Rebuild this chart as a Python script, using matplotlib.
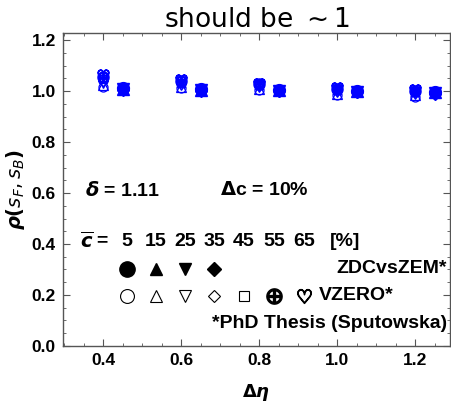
import matplotlib
matplotlib.use("Agg")
import matplotlib.pyplot as plt
from matplotlib.ticker import MultipleLocator

plt.rcParams['font.family'] = ['Liberation Sans', 'DejaVu Sans']
plt.rcParams['mathtext.fontset'] = 'dejavusans'

# data
deta = [0.4, 0.6, 0.8, 1.0, 1.2]
deta_zdc = [0.45, 0.65, 0.85, 1.05, 1.25]
cent_labels = ['5', '15', '25', '35', '45', '55', '65']

# VZERO (open markers), one list per centrality class
vzero = [
    [1.015, 1.012, 1.005, 0.985, 0.978],
    [1.025, 1.018, 1.010, 0.990, 0.984],
    [1.032, 1.024, 1.015, 0.995, 0.988],
    [1.040, 1.030, 1.020, 1.000, 0.992],
    [1.048, 1.034, 1.024, 1.004, 0.996],
    [1.056, 1.040, 1.027, 1.008, 1.001],
    [1.064, 1.044, 1.030, 1.012, 1.006],
]
# ZDCvsZEM (filled markers)
zdc = [
    [1.012, 1.008, 1.004, 1.000, 0.997],
    [1.010, 1.006, 1.003, 0.999, 0.995],
    [1.008, 1.004, 1.001, 0.998, 0.993],
    [1.006, 1.002, 1.000, 0.996, 0.990],
]

blue = '#0000ff'
open_markers = ['o', '^', 'v', 'D', 's', '$\\oplus$', '$\\heartsuit$']
open_sizes = [6.5, 6.5, 6.5, 5, 5.5, 8, 8]
filled_markers = ['o', '^', 'v', 'D']
filled_sizes = [8.5, 8, 8, 6.5]

fig = plt.figure(figsize=(4.52, 4.04), dpi=100)
ax = fig.add_axes([0.139, 0.144, 0.857, 0.774])

for vals, m, s in zip(vzero, open_markers, open_sizes):
    if m.startswith('$'):
        ax.plot(deta, vals, ls='none', marker=m, ms=s, color=blue)
    else:
        ax.plot(deta, vals, ls='none', marker=m, ms=s, mfc='none', mec=blue, mew=0.9)
for vals, m, s in zip(zdc, filled_markers, filled_sizes):
    ax.plot(deta_zdc, vals, ls='none', marker=m, ms=s, color=blue)

ax.set_xlim(0.297, 1.29)
ax.set_ylim(0.0, 1.228)
ax.xaxis.set_major_locator(MultipleLocator(0.2))
ax.xaxis.set_minor_locator(MultipleLocator(0.05))
ax.yaxis.set_major_locator(MultipleLocator(0.2))
ax.yaxis.set_minor_locator(MultipleLocator(0.05))
ax.tick_params(which='both', direction='in', top=True, right=True, color='#555555')
ax.tick_params(which='major', length=5, labelsize=12.5, pad=5)
ax.tick_params(which='minor', length=2.5)
for t in ax.get_xticklabels() + ax.get_yticklabels():
    t.set_fontweight('bold')
for sp in ax.spines.values():
    sp.set_color('#555555')
    sp.set_linewidth(1.0)

ax.set_xlabel(r'$\mathbf{\Delta}\boldsymbol{\eta}$', fontsize=13, labelpad=10)
ax.set_ylabel(r'$\boldsymbol{\rho(s_F, s_B)}$', fontsize=14, labelpad=3)
ax.set_title(r'should be $\sim 1$', fontsize=19, pad=2,
             family=['DejaVu Sans'])

# text annotations
tr = ax.transAxes
fs = 14
ax.text(0.057, 0.498, r'$\boldsymbol{\delta}$ = 1.11', transform=tr, fontsize=fs,
        fontweight='bold', va='center')
ax.text(0.406, 0.498, r'$\mathbf{\Delta}$c = 10%', transform=tr, fontsize=fs,
        fontweight='bold', va='center')

ax.text(0.045, 0.335, r'$\overline{\boldsymbol{c}}$ =', transform=tr, fontsize=fs,
        fontweight='bold', va='center')
xs = [0.166, 0.240, 0.316, 0.391, 0.468, 0.546, 0.622]
for xp, lab in zip(xs, cent_labels):
    ax.text(xp, 0.335, lab, transform=tr, fontsize=fs, fontweight='bold',
            ha='center', va='center')
ax.text(0.69, 0.335, '[%]', transform=tr, fontsize=fs, fontweight='bold', va='center')

for xp, m, s in zip(xs, filled_markers, [11, 9, 9, 7]):
    ax.plot([xp], [0.246], transform=tr, ls='none', marker=m, ms=s, color='black',
            clip_on=False)
ax.text(0.992, 0.246, 'ZDCvsZEM*', transform=tr, fontsize=fs, fontweight='bold',
        ha='right', va='center')

for xp, m, s in zip(xs, open_markers, [10, 8, 8, 6.5, 6.5, 11, 10]):
    if m.startswith('$'):
        ax.plot([xp], [0.16], transform=tr, ls='none', marker=m, ms=s, color='black')
    else:
        ax.plot([xp], [0.16], transform=tr, ls='none', marker=m, ms=s, mfc='none',
                mec='black', mew=0.8)
ax.text(0.66, 0.16, 'VZERO*', transform=tr, fontsize=fs, fontweight='bold', va='center')

ax.text(0.992, 0.07, '*PhD Thesis (Sputowska)', transform=tr, fontsize=fs,
        fontweight='bold', ha='right', va='center')

fig.savefig('out.png', dpi=100)
